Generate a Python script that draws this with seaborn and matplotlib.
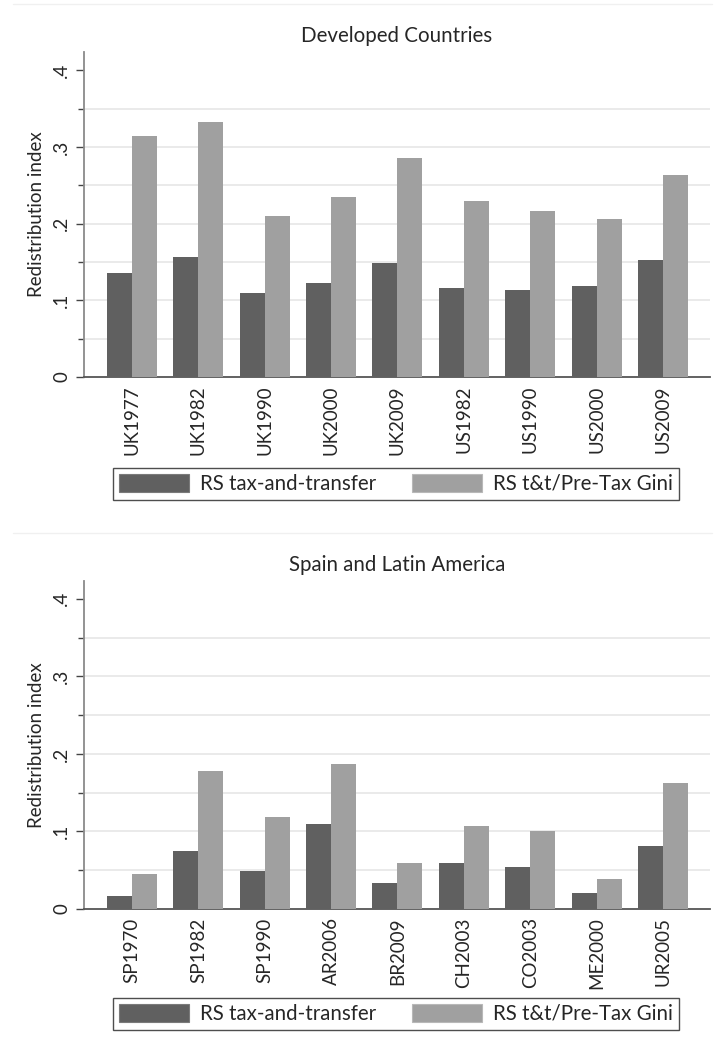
import matplotlib
matplotlib.use("Agg")
import matplotlib.pyplot as plt
import seaborn as sns
import pandas as pd
from matplotlib.lines import Line2D

# ---- data ----
series_names = ["RS tax-and-transfer", "RS t&t/Pre-Tax Gini"]

dev_labels = ["UK1977", "UK1982", "UK1990", "UK2000", "UK2009",
              "US1982", "US1990", "US2000", "US2009"]
dev_tt = [0.136, 0.157, 0.109, 0.122, 0.149, 0.116, 0.113, 0.119, 0.153]
dev_ratio = [0.314, 0.333, 0.210, 0.235, 0.286, 0.230, 0.216, 0.206, 0.264]

lat_labels = ["SP1970", "SP1982", "SP1990", "AR2006", "BR2009",
              "CH2003", "CO2003", "ME2000", "UR2005"]
lat_tt = [0.017, 0.075, 0.049, 0.110, 0.034, 0.059, 0.054, 0.021, 0.081]
lat_ratio = [0.045, 0.178, 0.119, 0.187, 0.059, 0.107, 0.101, 0.039, 0.163]

titles = ["Developed Countries", "Spain and Latin America"]
y_ticks = [0, 0.1, 0.2, 0.3, 0.4]
y_ticklabels = ["0", ".1", ".2", ".3", ".4"]
y_minor = [0.05, 0.15, 0.25, 0.35]

DARK = "#606060"
LIGHT = "#a0a0a0"

sns.set_theme(style="white")
plt.rcParams["font.family"] = ["Lato", "DejaVu Sans"]

W, H = 717, 1050
fig = plt.figure(figsize=(W / 100, H / 100), dpi=100)


def px_axes(left, top, right, bottom):
    return fig.add_axes([left / W, 1 - bottom / H, (right - left) / W, (bottom - top) / H])


def make_df(labels, a, b):
    return pd.DataFrame({
        "label": labels * 2,
        "value": a + b,
        "series": [series_names[0]] * len(labels) + [series_names[1]] * len(labels),
    })


panels = [
    (dev_labels, dev_tt, dev_ratio, (52, 377), (463, 500), 0.424),
    (lat_labels, lat_tt, lat_ratio, (581, 909), (993, 1030), 0.423),
]

for i, (labels, a, b, (top, bottom), (lt, lb), ymax) in enumerate(panels):
    ax = px_axes(84, top, 710, bottom)
    df = make_df(labels, a, b)
    sns.barplot(data=df, x="label", y="value", hue="series",
                palette=[DARK, LIGHT], width=0.754, saturation=1,
                ax=ax, edgecolor="none", linewidth=0, zorder=3)
    ax.set_ylim(0, ymax)
    ax.set_xlim(-0.724, 8.71)
    for yv in y_minor + [0.1, 0.2, 0.3]:
        ax.axhline(yv, color="#e6e6e6", linewidth=1.2, zorder=1)
    ax.set_yticks(y_ticks)
    ax.set_yticklabels(y_ticklabels, rotation=90, va="center", fontsize=13.5)
    ax.set_yticks(y_minor, minor=True)
    ax.tick_params(axis="y", which="major", length=6, width=1, color="#444444",
                   pad=4, left=True)
    ax.tick_params(axis="y", which="minor", length=4, width=1, color="#444444", left=True)
    ax.tick_params(axis="x", length=0, pad=6)
    plt.setp(ax.get_xticklabels(), rotation=90, fontsize=13.5, va="top", ha="center")
    ax.set_xlabel("")
    ax.set_ylabel("Redistribution index", fontsize=13.5, labelpad=6)
    ax.set_title(titles[i], fontsize=14.8, pad=7)
    for s in ["top", "right"]:
        ax.spines[s].set_visible(False)
    ax.spines["left"].set_color("#8a8a8a")
    ax.spines["left"].set_linewidth(1.3)
    ax.spines["bottom"].set_color("#555555")
    ax.spines["bottom"].set_linewidth(1.3)
    ax.get_legend().remove()

    handles = [plt.Rectangle((0, 0), 1, 1, facecolor=DARK, edgecolor="#7a7a7a", linewidth=0.8),
               plt.Rectangle((0, 0), 1, 1, facecolor=LIGHT, edgecolor="#b8b8b8", linewidth=0.8)]
    leg = fig.legend(handles, series_names, loc="lower left",
                     bbox_to_anchor=(113 / W, 1 - lb / H, (679 - 113) / W, (lb - lt) / H),
                     mode="expand", ncol=2, fontsize=14.8, frameon=True, fancybox=False,
                     edgecolor="#222222", handlelength=3.4, handleheight=0.95,
                     handletextpad=0.55, borderpad=0.3, borderaxespad=0,
                     columnspacing=1.5)
    leg.get_frame().set_linewidth(1.0)

# faint panel separators
for yy in [4, 533]:
    fig.add_artist(Line2D([13 / W, 712 / W], [1 - yy / H, 1 - yy / H],
                          color="#f0f0f0", linewidth=1))

fig.savefig("out.png", dpi=100, facecolor="white")
